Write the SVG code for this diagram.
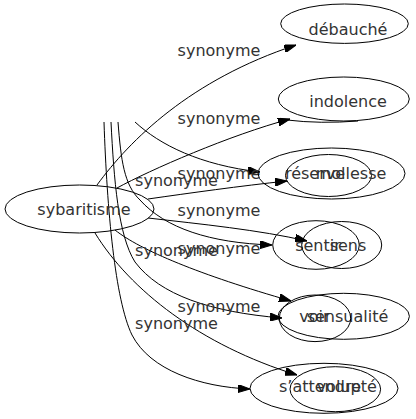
<svg xmlns="http://www.w3.org/2000/svg" width="416" height="419" viewBox="0 0 416 419">
<style>
  .n ellipse { fill: none; stroke: #000; stroke-width: 1; }
  text { font-family: "DejaVu Sans", "Liberation Sans", sans-serif; font-size: 16px; fill: #333; text-anchor: middle; }
  .e path { fill: none; stroke: #000; stroke-width: 1; }
  .e path.a { marker-end: url(#arr); }
</style>
<defs>
  <marker id="arr" viewBox="0 0 12 8" refX="12" refY="4" markerWidth="12" markerHeight="8" markerUnits="userSpaceOnUse" orient="auto">
    <path d="M0,0 L12,4 L0,8 z" fill="#000" stroke="#000" stroke-width="1"/>
  </marker>
</defs>
<rect width="416" height="419" fill="#fff"/>
<g id="edges" class="e">
  <path class="a" d="M97,185 C130,140 190,80 296,45"/>
  <path class="a" d="M117,188 C150,170 230,135 290,119"/>
  <path d="M287,120 Q320,124 358,121"/>
  <path class="a" d="M135,122 C160,145 200,165 260,172"/>
  <path class="a" d="M148,199 C190,193 240,186 287,181"/>
  <path class="a" d="M118,122 C121,160 124,185 140,200 C165,228 210,243 272,245"/>
  <path class="a" d="M148,218 C200,224 260,230 307,241"/>
  <path class="a" d="M115,230 C140,250 200,275 291,301"/>
  <path class="a" d="M111,122 C114,180 118,235 135,262 C160,295 210,312 282,318"/>
  <path class="a" d="M95,233 C130,290 200,345 297,375"/>
  <path class="a" d="M104,122 C107,210 115,300 132,335 C150,370 200,387 250,389"/>
  <text x="219" y="56">synonyme</text>
  <text x="219" y="124">synonyme</text>
  <text x="219" y="179">synonyme</text>
  <text x="176.5" y="186">synonyme</text>
  <text x="219" y="216">synonyme</text>
  <text x="219" y="254">synonyme</text>
  <text x="176.5" y="256">synonyme</text>
  <text x="219" y="312">synonyme</text>
  <text x="176.5" y="329">synonyme</text>
</g>
<g id="sybaritisme" class="n"><ellipse cx="79.5" cy="209" rx="74.5" ry="24"/><text x="84" y="215">sybaritisme</text></g>
<g id="debauche" class="n"><ellipse cx="344.5" cy="23.7" rx="63.8" ry="19.7"/><text x="348" y="35">débauché</text></g>
<g id="indolence" class="n"><ellipse cx="343.8" cy="99" rx="65.5" ry="22"/><text x="348" y="106.5">indolence</text></g>
<g id="reserve" class="n"><ellipse cx="331.5" cy="173.5" rx="73.5" ry="25.5"/><text x="315" y="179">réserve</text></g>
<g id="mollesse" class="n"><ellipse cx="328.5" cy="175.5" rx="43" ry="21"/><text x="351" y="179">mollesse</text></g>
<g id="sentir" class="n"><ellipse cx="316" cy="245" rx="43.3" ry="24.3"/><text x="318" y="251">sentir</text></g>
<g id="sens" class="n"><ellipse cx="341.7" cy="245" rx="40" ry="23.5"/><text x="348" y="251">sens</text></g>
<g id="sensualite" class="n"><ellipse cx="343.7" cy="316.3" rx="65.7" ry="23"/><text x="347.5" y="322">sensualité</text></g>
<g id="voir" class="n"><ellipse cx="315" cy="318.3" rx="35.7" ry="23.3"/><text x="314.5" y="322">voir</text></g>
<g id="sattendre" class="n"><ellipse cx="324" cy="388.3" rx="74" ry="25"/><text x="320" y="392">s’attendre</text></g>
<g id="volupte" class="n"><ellipse cx="335.3" cy="389.2" rx="45.3" ry="22.5"/><text x="346.7" y="392">volupté</text></g>
</svg>
